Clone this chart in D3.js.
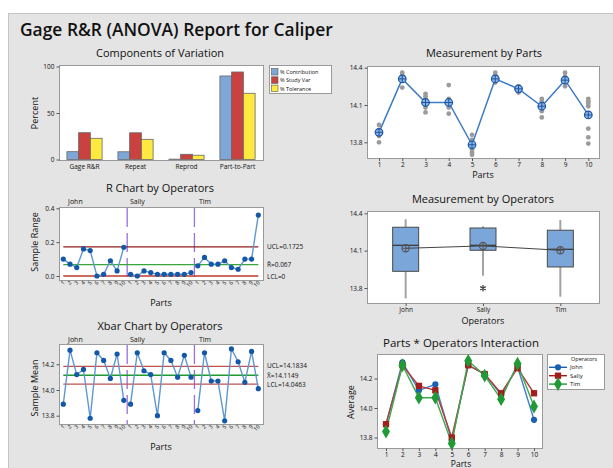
<!DOCTYPE html>
<html><head><meta charset="utf-8">
<script src="https://cdn.jsdelivr.net/npm/d3@7"></script>
<style>body{margin:0;background:#fff}svg{display:block}text{font-family:'Open Sans','Noto Sans',sans-serif;fill:#111}</style>
</head><body><svg id="c" width="613" height="468"></svg>
<script>
// ---------- DATA ----------
const components = ["Gage R&R", "Repeat", "Reprod", "Part-to-Part"];
const compSeries = ["% Contribution", "% Study Var", "% Tolerance"];
const pctContribution = [8.4, 8.3, 0.4, 89.8];
const pctStudyVar = [28.8, 28.7, 5.6, 94.1];
const pctTolerance = [22.8, 21.7, 4.6, 71.2];

const operators = ["John", "Sally", "Tim"];
const parts = [1, 2, 3, 4, 5, 6, 7, 8, 9, 10];

const rangeJohn = [0.10, 0.07, 0.05, 0.16, 0.15, 0.00, 0.01, 0.09, 0.03, 0.17];
const rangeSally = [0.01, 0.00, 0.03, 0.02, 0.01, 0.01, 0.01, 0.01, 0.01, 0.02];
const rangeTim = [0.06, 0.11, 0.07, 0.07, 0.09, 0.05, 0.04, 0.10, 0.10, 0.36];
const rLimits = [0.1725, 0.067, 0];
const rLimitLabels = ["UCL=0.1725", "R\u0304=0.067", "LCL=0"];
const rTicks = [0.0, 0.2, 0.4];

const meanJohn = [13.89, 14.31, 14.12, 14.16, 13.78, 14.29, 14.23, 14.09, 14.28, 13.92];
const meanSally = [13.89, 14.29, 14.15, 14.12, 13.80, 14.29, 14.23, 14.10, 14.27, 14.10];
const meanTim = [13.84, 14.29, 14.07, 14.07, 13.76, 14.32, 14.22, 14.06, 14.30, 14.01];
const xLimits = [14.1834, 14.1149, 14.0463];
const xLimitLabels = ["UCL=14.1834", "X\u0304=14.1149", "LCL=14.0463"];
const xTicks = [13.8, 14.0, 14.2];

const partMeans = [13.88, 14.31, 14.12, 14.12, 13.78, 14.31, 14.23, 14.09, 14.30, 14.02];
const partDots = [
  [13.80, 13.85, 13.87, 13.88, 13.90, 13.94],
  [14.24, 14.30, 14.32, 14.34, 14.36],
  [14.04, 14.08, 14.10, 14.12, 14.15, 14.17, 14.19],
  [14.03, 14.08, 14.10, 14.12, 14.15, 14.26],
  [13.70, 13.72, 13.74, 13.78, 13.82, 13.86],
  [14.28, 14.30, 14.32, 14.34, 14.36],
  [14.20, 14.22, 14.24, 14.25],
  [14.00, 14.05, 14.07, 14.09, 14.11, 14.13, 14.15],
  [14.25, 14.28, 14.30, 14.33, 14.36],
  [13.79, 13.84, 13.91, 14.09, 14.11, 14.13, 14.15]
];
const measTicks = [13.8, 14.1, 14.4];

const boxQ1 = [13.934, 14.103, 13.969];
const boxMedian = [14.143, 14.143, 14.111];
const boxQ3 = [14.288, 14.282, 14.264];
const whiskerLow = [13.717, 13.899, 13.730];
const whiskerHigh = [14.352, 14.296, 14.347];
const opMeans = [14.119, 14.138, 14.103];
const outlierOps = ["Sally"];
const outlierVals = [13.798];

const interTicks = [13.8, 14.0, 14.2];

// ---------- DRAW ----------
const svg = d3.select("#c");
svg.append("rect").attr("x", 8.5).attr("y", 13.5).attr("width", 620).attr("height", 470)
  .attr("fill", "#e4e4e4").attr("stroke", "#c4c4c4");
svg.append("text").attr("x", 20).attr("y", 36).attr("font-size", 17.4).attr("font-weight", 600)
  .text("Gage R&R (ANOVA) Report for Caliper");

function frame(x0, y0, x1, y1) {
  svg.append("rect").attr("x", x0 + 0.5).attr("y", y0 + 0.5).attr("width", x1 - x0).attr("height", y1 - y0)
    .attr("fill", "#fff").attr("stroke", "#9a9a9a");
}
function title(t, x, y, fs) {
  svg.append("text").attr("x", x).attr("y", y).attr("text-anchor", "middle").attr("font-size", fs || 11).text(t);
}
function yAxis(scale, x, ticks, fmt) {
  const g = svg.append("g").attr("transform", `translate(${x + 0.5},0)`)
    .call(d3.axisLeft(scale).tickValues(ticks).tickSize(3).tickPadding(2).tickFormat(fmt));
  g.select(".domain").remove();
  g.selectAll("line").attr("stroke", "#555");
  g.selectAll("text").attr("font-size", 6.5).attr("font-family", "'Open Sans',sans-serif").attr("fill", "#222");
}
function xAxisB(scale, y, vals) {
  const ax = d3.axisBottom(scale).tickSize(2.5).tickPadding(1);
  if (vals) ax.tickValues(vals);
  const g = svg.append("g").attr("transform", `translate(0,${y})`).call(ax);
  g.select(".domain").remove();
  g.selectAll("line").attr("stroke", "#555");
  g.selectAll("text").attr("font-size", 6.5).attr("font-family", "'Open Sans',sans-serif").attr("fill", "#222");
}
function yLabel(t, x, y) {
  svg.append("text").attr("transform", `translate(${x},${y}) rotate(-90)`).attr("text-anchor", "middle")
    .attr("font-size", 9).text(t);
}
function xLabel(t, x, y, fs) {
  svg.append("text").attr("x", x).attr("y", y).attr("text-anchor", "middle").attr("font-size", fs || 9).text(t);
}

// ---- Components of Variation ----
title("Components of Variation", 160, 57);
frame(59, 65, 263, 160);
const cx = d3.scaleBand().domain(components).range([59, 263]).paddingInner(0.31).paddingOuter(0.155);
const cs = d3.scaleBand().domain(compSeries).range([0, cx.bandwidth()]);
const cy = d3.scaleLinear().domain([0, 100]).range([159.5, 66.5]);
const compColors = d3.scaleOrdinal().domain(compSeries).range(["#7ea7d8", "#c9423f", "#fde93f"]);
const compVals = [pctContribution, pctStudyVar, pctTolerance];
compSeries.forEach((s, si) => {
  svg.append("g").selectAll("rect").data(components).join("rect")
    .attr("x", d => cx(d) + cs(s)).attr("width", cs.bandwidth())
    .attr("y", (d, i) => cy(compVals[si][i])).attr("height", (d, i) => cy(0) - cy(compVals[si][i]))
    .attr("fill", compColors(s)).attr("stroke", "#666").attr("stroke-width", 0.8);
});
yAxis(cy, 59, [0, 50, 100], d3.format("d"));
svg.append("g").selectAll("text").data(components).join("text")
  .attr("x", d => cx(d) + cx.bandwidth() / 2).attr("y", 169).attr("text-anchor", "middle")
  .attr("font-size", 6.5).text(d => d);
yLabel("Percent", 38, 113);
svg.append("rect").attr("x", 269.5).attr("y", 65.5).attr("width", 62).attr("height", 28).attr("fill", "#fff").attr("stroke", "#9a9a9a");
compSeries.forEach((s, i) => {
  const yy = 68 + i * 8.3;
  svg.append("rect").attr("x", 271.5).attr("y", yy + 0.5).attr("width", 6.5).attr("height", 6.5)
    .attr("fill", compColors(s)).attr("stroke", "#555").attr("stroke-width", 0.6);
  svg.append("text").attr("x", 280).attr("y", yy + 6).attr("font-size", 5.5).text(s);
});

// ---- helper for control charts ----
function controlChart(cfg) {
  const { y0, y1, scaleY, vals, limits, limitLabels, limitColors, ticks, fmt, ttl, ttlY, yl, ylY, opY } = cfg;
  title(ttl, 160, ttlY);
  frame(59, y0, 263, y1);
  const x = d3.scaleLinear().domain([1, 30]).range([63.3, 258.3]);
  [10.5, 20.5].forEach(v => {
    svg.append("line").attr("x1", x(v)).attr("x2", x(v)).attr("y1", y0 + 1).attr("y2", y1)
      .attr("stroke", "#9b6fe0").attr("stroke-width", 1.3).attr("stroke-dasharray", "19,6");
  });
  limits.forEach((l, i) => {
    svg.append("line").attr("x1", x(1)).attr("x2", x(30)).attr("y1", scaleY(l)).attr("y2", scaleY(l))
      .attr("stroke", limitColors[i]).attr("stroke-width", 1.3);
    svg.append("text").attr("x", 267).attr("y", scaleY(l) + cfg.labelOffsets[i]).attr("font-size", 6.5).text(limitLabels[i]);
  });
  [0, 1, 2].forEach(k => {
    const seg = vals.slice(k * 10, k * 10 + 10);
    svg.append("path").attr("d", d3.line().x((d, i) => x(k * 10 + i + 1)).y(d => scaleY(d))(seg))
      .attr("fill", "none").attr("stroke", "#5f97d3").attr("stroke-width", 1.4);
  });
  svg.append("g").selectAll("circle").data(vals).join("circle")
    .attr("cx", (d, i) => x(i + 1)).attr("cy", d => scaleY(d)).attr("r", 2.6).attr("fill", "#1358a8");
  yAxis(scaleY, 59, ticks, fmt);
  svg.append("g").selectAll("text").data(vals).join("text")
    .attr("transform", (d, i) => `translate(${x(i + 1) + 2},${y1 + 3}) rotate(-45)`)
    .attr("text-anchor", "end").attr("font-size", 5.5).attr("fill", "#333")
    .text((d, i) => parts[i % 10]);
  operators.forEach((o, i) => {
    svg.append("text").attr("x", [68, 130, 199][i]).attr("y", opY).attr("font-size", 7).text(o);
  });
  yLabel(yl, 38, ylY);
  xLabel("Parts", 161, cfg.xlY);
}

const ry = d3.scaleLinear().domain([0, 0.4]).range([276, 208.3]);
controlChart({
  y0: 207, y1: 280, scaleY: ry, vals: rangeJohn.concat(rangeSally, rangeTim), limits: rLimits,
  limitLabels: rLimitLabels, limitColors: ["#8f1d1d", "#3aa53a", "#c0392b"], labelOffsets: [2.5, 2.5, 2.5],
  ticks: rTicks, fmt: d3.format(".1f"), ttl: "R Chart by Operators", ttlY: 191.5,
  yl: "Sample Range", ylY: 242, opY: 204, xlY: 306
});
const xy = d3.scaleLinear().domain([13.8, 14.2]).range([415.7, 364.3]);
controlChart({
  y0: 344, y1: 424, scaleY: xy, vals: meanJohn.concat(meanSally, meanTim), limits: xLimits,
  limitLabels: xLimitLabels, limitColors: ["#c05252", "#1e9a2e", "#c05252"], labelOffsets: [2, 2.5, 2.5],
  ticks: xTicks, fmt: d3.format(".1f"), ttl: "Xbar Chart by Operators", ttlY: 329.5,
  yl: "Sample Mean", ylY: 388, opY: 342, xlY: 450
});

// ---- Measurement by Parts ----
title("Measurement by Parts", 484, 57.3);
frame(367, 66, 599, 158);
const mx = d3.scaleLinear().domain([1, 10]).range([379, 588.3]);
const my = d3.scaleLinear().domain([13.8, 14.4]).range([142.3, 67.7]);
partDots.forEach((arr, pi) => {
  svg.append("g").selectAll("circle").data(arr).join("circle")
    .attr("cx", mx(parts[pi])).attr("cy", d => my(d)).attr("r", 2.4).attr("fill", "#9b9b9b");
});
svg.append("path").attr("d", d3.line().x((d, i) => mx(parts[i])).y(d => my(d))(partMeans))
  .attr("fill", "none").attr("stroke", "#3d7bc4").attr("stroke-width", 1.5);
function crossCircle(g, x, y, r, stroke, fill) {
  g.append("circle").attr("cx", x).attr("cy", y).attr("r", r).attr("fill", fill).attr("stroke", stroke).attr("stroke-width", 1.2);
  g.append("line").attr("x1", x - r).attr("x2", x + r).attr("y1", y).attr("y2", y).attr("stroke", stroke).attr("stroke-width", 1);
  g.append("line").attr("x1", x).attr("x2", x).attr("y1", y - r).attr("y2", y + r).attr("stroke", stroke).attr("stroke-width", 1);
}
const mg = svg.append("g");
partMeans.forEach((m, i) => crossCircle(mg, mx(parts[i]), my(m), 3.8, "#1a57a3", "#8fb4e3"));
yAxis(my, 367, measTicks, d3.format(".1f"));
xAxisB(mx, 158.5, parts);
xLabel("Parts", 483, 178);

// ---- Measurement by Operators ----
title("Measurement by Operators", 483, 203.3);
frame(367, 211, 599, 303);
const ox = d3.scalePoint().domain(operators).range([367, 599]).padding(0.5);
const oy = d3.scaleLinear().domain([13.8, 14.4]).range([288, 213.3]);
const bw = 26;
operators.forEach((o, i) => {
  const x = ox(o);
  svg.append("line").attr("x1", x).attr("x2", x).attr("y1", oy(whiskerHigh[i])).attr("y2", oy(boxQ3[i]))
    .attr("stroke", "#a3a3a3").attr("stroke-width", 2);
  svg.append("line").attr("x1", x).attr("x2", x).attr("y1", oy(boxQ1[i])).attr("y2", oy(whiskerLow[i]))
    .attr("stroke", "#a3a3a3").attr("stroke-width", 2);
  svg.append("rect").attr("x", x - bw / 2).attr("y", oy(boxQ3[i])).attr("width", bw)
    .attr("height", oy(boxQ1[i]) - oy(boxQ3[i])).attr("fill", "#7ba6da").attr("stroke", "#4a4a4a").attr("stroke-width", 1);
  svg.append("line").attr("x1", x - bw / 2).attr("x2", x + bw / 2).attr("y1", oy(boxMedian[i])).attr("y2", oy(boxMedian[i]))
    .attr("stroke", "#333").attr("stroke-width", 1.2);
});
svg.append("path").attr("d", d3.line().x((d, i) => ox(operators[i])).y(d => oy(d))(opMeans))
  .attr("fill", "none").attr("stroke", "#444").attr("stroke-width", 1);
const og = svg.append("g");
opMeans.forEach((m, i) => crossCircle(og, ox(operators[i]), oy(m), 3.6, "#555", "none"));
outlierOps.forEach((o, i) => {
  svg.append("path").attr("transform", `translate(${ox(o)},${oy(outlierVals[i])})`)
    .attr("d", d3.symbol(d3.symbolAsterisk, 28)()).attr("fill", "none").attr("stroke", "#444").attr("stroke-width", 1.3);
});
yAxis(oy, 367, measTicks, d3.format(".1f"));
xAxisB(ox, 303.5);
xLabel("Operators", 483, 324);

// ---- Parts * Operators Interaction ----
title("Parts * Operators Interaction", 461, 346.7, 11.5);
frame(377, 354, 542, 448);
const ix = d3.scaleLinear().domain([1, 10]).range([386, 534]);
const iy = d3.scaleLinear().domain([13.8, 14.2]).range([437.5, 378.5]);
const interSeries = [meanJohn, meanSally, meanTim];
const interColors = ["#1b5fb0", "#a31d1d", "#1f9a35"];
const interLine = ["#3e7fcc", "#b73a3a", "#3aaa4c"];
const symbols = [d3.symbolCircle, d3.symbolSquare, d3.symbolDiamond];
const symSizes = [30, 40, 55];
interSeries.forEach((s, k) => {
  svg.append("path").attr("d", d3.line().x((d, i) => ix(parts[i])).y(d => iy(d))(s))
    .attr("fill", "none").attr("stroke", interLine[k]).attr("stroke-width", 1.4);
});
interSeries.forEach((s, k) => {
  svg.append("g").selectAll("path").data(s).join("path")
    .attr("transform", (d, i) => `translate(${ix(parts[i])},${iy(d)})`)
    .attr("d", d3.symbol(symbols[k], symSizes[k])()).attr("fill", interColors[k]);
});
yAxis(iy, 377, interTicks, d3.format(".1f"));
xAxisB(ix, 448.5, parts);
xLabel("Parts", 461, 467, 8.5);
yLabel("Average", 354, 402);
svg.append("rect").attr("x", 547.5).attr("y", 354.5).attr("width", 57).attr("height", 35).attr("fill", "#fff").attr("stroke", "#9a9a9a");
svg.append("text").attr("x", 571).attr("y", 360.5).attr("font-size", 5.5).text("Operators");
operators.forEach((o, k) => {
  const yy = 367.3 + k * 8.4;
  svg.append("line").attr("x1", 549).attr("x2", 567).attr("y1", yy).attr("y2", yy).attr("stroke", interColors[k]).attr("stroke-width", 1.4);
  svg.append("path").attr("transform", `translate(558,${yy})`).attr("d", d3.symbol(symbols[k], symSizes[k])()).attr("fill", interColors[k]);
  svg.append("text").attr("x", 570).attr("y", yy + 2).attr("font-size", 6).text(o);
});
</script></body></html>
